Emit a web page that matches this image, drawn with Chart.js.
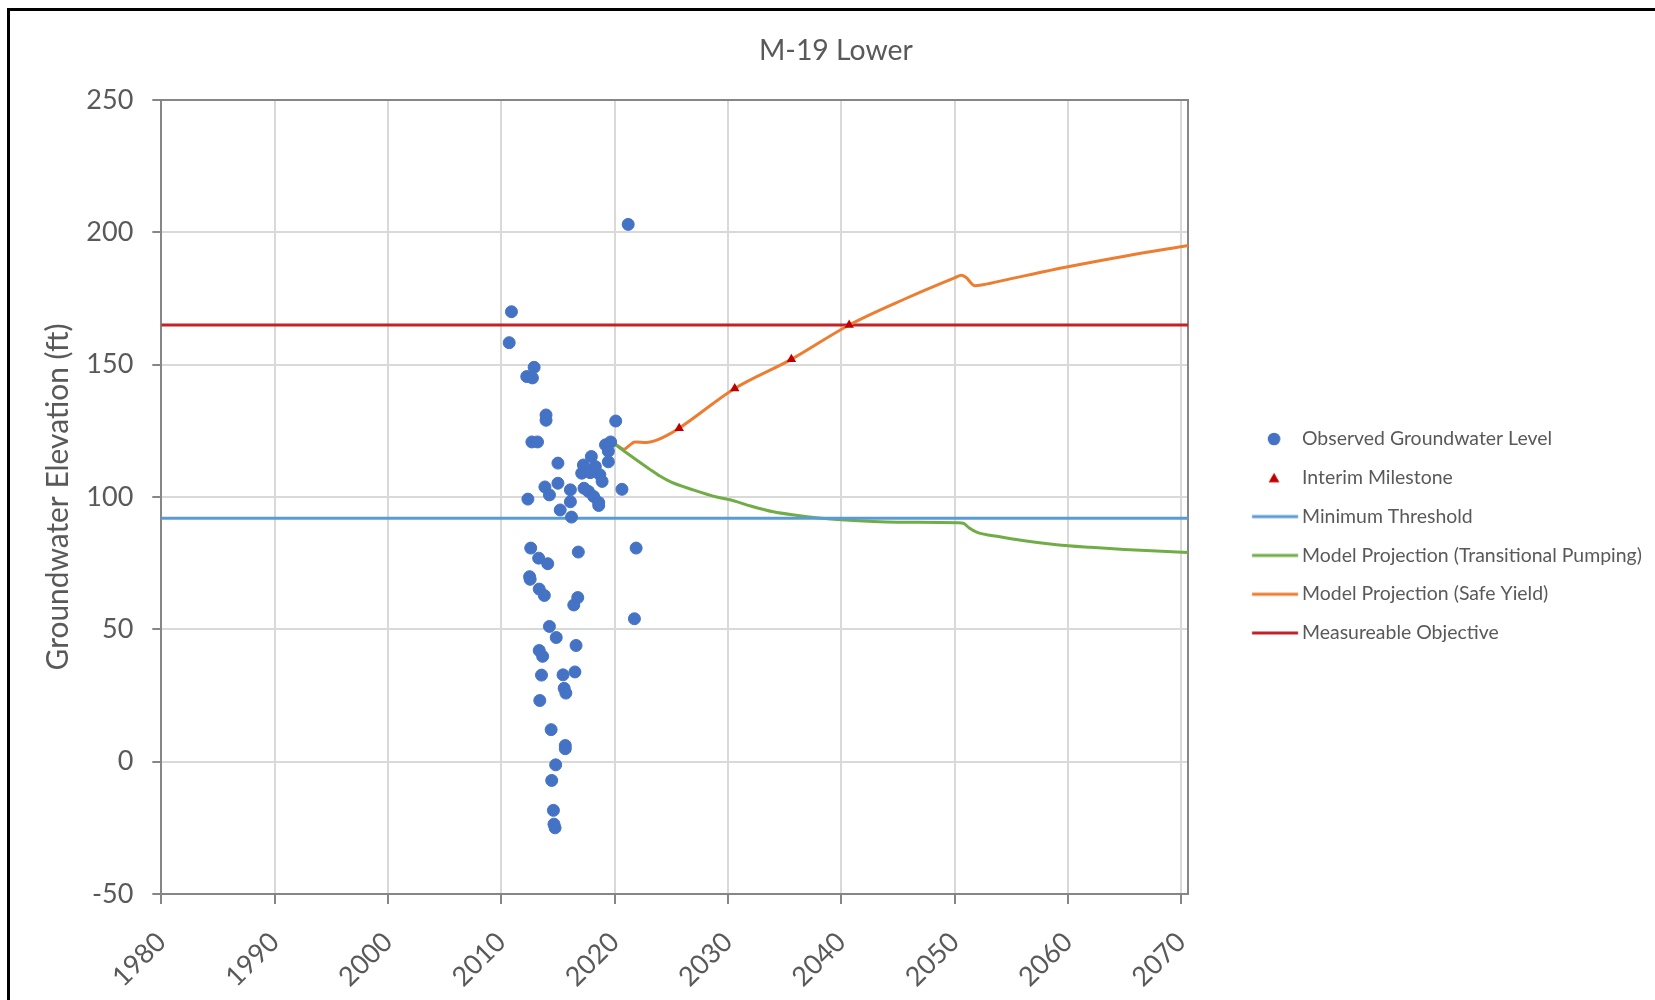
<!DOCTYPE html>
<html>
<head>
<meta charset="utf-8">
<script src="https://cdn.jsdelivr.net/npm/chart.js"></script>
<style>
html,body{margin:0;padding:0;background:#fff;overflow:hidden;}
#wrap{position:relative;width:1655px;height:1000px;}
#c{position:absolute;left:0;top:0;}
#frame{position:absolute;left:7px;top:8px;width:1700px;height:1100px;border-left:3px solid #000;border-top:3px solid #000;pointer-events:none;}
</style>
</head>
<body>
<div id="wrap"><canvas id="c" width="1655" height="1000"></canvas><div id="frame"></div></div>
<script>
// ---------------- data ----------------
const chartTitle = 'M-19 Lower';
const yAxisTitle = 'Groundwater Elevation (ft)';
const seriesNames = ['Observed Groundwater Level', 'Interim Milestone', 'Minimum Threshold',
  'Model Projection (Transitional Pumping)', 'Model Projection (Safe Yield)', 'Measureable Objective'];
const xTickValues = [1980, 1990, 2000, 2010, 2020, 2030, 2040, 2050, 2060, 2070];
const yTickValues = [-50, 0, 50, 100, 150, 200, 250];
const xRange = [1980, 2070.6];

const observedYears = [2021.2, 2010.9, 2010.7, 2012.9, 2012.25, 2012.75, 2013.95, 2013.95, 2012.7, 2013.2,
  2020.1, 2015.0, 2019.2, 2019.65, 2019.45, 2019.45, 2017.95, 2017.25, 2018.3, 2017.1,
  2017.85, 2018.7, 2018.9, 2015.0, 2013.85, 2020.65, 2017.3, 2017.7, 2016.1, 2014.25,
  2012.35, 2018.15, 2018.6, 2018.6, 2016.1, 2015.2, 2016.2, 2012.6, 2016.8, 2021.9,
  2013.3, 2014.1, 2012.5, 2012.55, 2013.35, 2013.8, 2016.75, 2016.4, 2021.75, 2014.25,
  2014.85, 2016.6, 2013.35, 2013.65, 2013.55, 2015.45, 2016.5, 2015.55, 2015.7, 2013.4,
  2014.4, 2015.65, 2015.65, 2014.8, 2014.45, 2014.6, 2014.65, 2014.75];
const observedLevels = [203, 170, 158.3, 149, 145.5, 145, 131, 129, 120.8, 120.8,
  128.7, 112.8, 119.7, 120.8, 117.3, 113.3, 115.3, 112.1, 111.5, 109.0,
  109.2, 108.4, 105.9, 105.2, 103.8, 102.9, 103.3, 102.1, 102.7, 100.8,
  99.2, 100.2, 97.9, 96.8, 98.2, 95.1, 92.4, 80.7, 79.2, 80.7,
  76.9, 74.8, 69.9, 68.9, 65.2, 62.8, 62, 59.2, 54, 51.1,
  46.9, 43.9, 42, 39.8, 32.7, 32.8, 33.9, 27.7, 25.9, 23.1,
  12.1, 6.1, 4.9, -1.2, -7.1, -18.4, -23.6, -25];

const milestoneYears = [2025.7, 2030.6, 2035.6, 2040.7];
const milestoneLevels = [126, 141, 152, 165];

const minimumThreshold = 92;
const measureableObjective = 165;

const transitionalYears = [2019.7, 2020.8, 2022, 2023, 2024, 2025, 2027, 2029, 2030.5, 2032, 2034, 2036, 2038, 2040,
  2045, 2050.3, 2050.8, 2051.3, 2052, 2054, 2056, 2059, 2062, 2065, 2070.6];
const transitionalLevels = [121, 117.5, 113.8, 110.8, 107.9, 105.6, 102.6, 100, 98.6, 96.6, 94.4, 93.1, 92.1, 91.4,
  90.5, 90.3, 90.0, 88.3, 86.6, 85.0, 83.6, 82.0, 81.0, 80.2, 79.0];

const safeYieldYears = [2019.7, 2020.3, 2020.8, 2021.3, 2021.8, 2022.8, 2023.6, 2024.5, 2025.7, 2030.6, 2035.6,
  2040.7, 2045.7, 2050.0, 2050.6, 2051.0, 2051.8, 2052.5, 2055, 2060, 2065, 2070.6];
const safeYieldLevels = [121, 119.3, 118, 119.5, 120.8, 120.6, 121.3, 123, 126, 141, 152,
  165, 175, 182.8, 183.8, 183, 179.8, 180.2, 182.5, 187, 191, 195];

// ---------------- styling helpers ----------------
const FONT = 'Lato';
const TXT = '#595959';
const AXIS = '#868686';
const GRID = '#D9D9D9';
const C_OBS = '#4472C4', C_MS = '#C00000', C_MT = '#5B9BD5', C_TP = '#70AD47', C_SY = '#ED7D31', C_MO = '#C42226';

function fitSize(text, target) {
  const g = document.createElement('canvas').getContext('2d');
  g.font = '400 100px ' + FONT;
  return 100 * target / g.measureText(text).width;
}
const tickSize = fitSize('250', 47);
const titleSize = fitSize(chartTitle, 154);
const legendSize = fitSize(seriesNames[3], 340);
const yTitleSize = fitSize(yAxisTitle, 347);

const PLOT = {left: 161.3, right: 1188, top: 100, bottom: 894};
const PAD = {left: 20, top: 20, right: 0, bottom: 0};
const legendPad = 38.8 - legendSize;
const boxW = 1302 - PLOT.right - legendPad - legendSize / 2;
const mcx = PLOT.right + legendPad + boxW / 2;
const half = Math.ceil(Math.max(mcx - 1248, 1302 - mcx));
const CW = half * 2, CH = 16;
const cLeft = mcx - half;

function marker(kind, color) {
  const cv = document.createElement('canvas');
  cv.width = CW; cv.height = CH;
  const g = cv.getContext('2d');
  g.fillStyle = color; g.strokeStyle = color;
  if (kind === 'line') {
    g.lineWidth = 3;
    g.beginPath(); g.moveTo(1252 - cLeft, CH / 2); g.lineTo(1298 - cLeft, CH / 2); g.stroke();
  } else if (kind === 'circle') {
    g.beginPath(); g.arc(1274 - cLeft, CH / 2, 6.3, 0, Math.PI * 2); g.fill();
  } else {
    const x = 1274 - cLeft, y = CH / 2;
    g.beginPath(); g.moveTo(x, y - 5); g.lineTo(x + 5.4, y + 4.5); g.lineTo(x - 5.4, y + 4.5); g.closePath(); g.fill();
  }
  return cv;
}
const markers = [marker('circle', C_OBS), marker('triangle', C_MS), marker('line', C_MT),
  marker('line', C_TP), marker('line', C_SY), marker('line', C_MO)];

const pts = (xs, ys) => xs.map((x, i) => ({x: x, y: ys[i]}));
const flat = v => [{x: xRange[0], y: v}, {x: xRange[1], y: v}];

const framePlugin = {
  id: 'plotFrame',
  beforeDatasetsDraw(chart) {
    const a = chart.chartArea, g = chart.ctx;
    g.save(); g.strokeStyle = AXIS; g.lineWidth = 2;
    g.beginPath(); g.moveTo(a.left, a.top); g.lineTo(a.right, a.top); g.lineTo(a.right, a.bottom); g.stroke();
    g.restore();
  }
};

const lineDs = (label, data, color, order) => ({
  label, data, borderColor: color, backgroundColor: color, borderWidth: 3,
  showLine: true, pointRadius: 0, pointHoverRadius: 0, cubicInterpolationMode: 'monotone', order
});

const config = {
  type: 'scatter',
  data: {
    datasets: [
      {label: seriesNames[0], data: pts(observedYears, observedLevels), backgroundColor: C_OBS, borderColor: C_OBS,
        pointRadius: 6, borderWidth: 1, pointStyle: 'circle', order: 0},
      {label: seriesNames[1], data: pts(milestoneYears, milestoneLevels), backgroundColor: C_MS, borderColor: C_MS,
        pointRadius: 5.5, borderWidth: 0, pointStyle: 'triangle', order: 1},
      lineDs(seriesNames[2], flat(minimumThreshold), C_MT, 2),
      lineDs(seriesNames[3], pts(transitionalYears, transitionalLevels), C_TP, 3),
      lineDs(seriesNames[4], pts(safeYieldYears, safeYieldLevels), C_SY, 4),
      lineDs(seriesNames[5], flat(measureableObjective), C_MO, 5)
    ]
  },
  options: {
    responsive: false,
    animation: false,
    devicePixelRatio: 1,
    layout: {padding: {left: PAD.left, top: PAD.top, right: 0, bottom: 0}},
    plugins: {
      tooltip: {enabled: false},
      title: {display: true, text: chartTitle, color: TXT,
        font: {family: FONT, size: titleSize, weight: 'normal'}, padding: {top: 14, bottom: 40}},
      legend: {
        position: 'right', align: 'start', maxWidth: 900,
        title: {display: true, text: ' ', font: {family: FONT, size: 10}, padding: {top: 380, bottom: 0}},
        labels: {
          usePointStyle: true, pointStyleWidth: boxW, padding: legendPad, color: TXT,
          font: {family: FONT, size: legendSize, weight: 'normal'},
          generateLabels(chart) {
            const items = Chart.defaults.plugins.legend.labels.generateLabels(chart);
            items.forEach((it, i) => { it.pointStyle = markers[it.datasetIndex]; it.fontColor = TXT; it.lineWidth = 0; });
            return items;
          }
        }
      }
    },
    scales: {
      x: {
        type: 'linear', min: xRange[0], max: xRange[1],
        afterBuildTicks(s) { s.ticks = xTickValues.map(v => ({value: v})); },
        afterFit(s) { s.height = 1000 - PLOT.bottom - PAD.bottom; },
        ticks: {includeBounds: false, maxRotation: 45, minRotation: 45, autoSkip: false, color: TXT, padding: 22,
          font: {family: FONT, size: tickSize}, callback: v => String(v)},
        grid: {color: GRID, lineWidth: 2, tickColor: AXIS, tickLength: 10, tickWidth: 2},
        border: {color: AXIS, width: 2}
      },
      y: {
        type: 'linear', min: -50, max: 250,
        afterBuildTicks(s) { s.ticks = yTickValues.map(v => ({value: v})); },
        afterFit(s) { s.width = PLOT.left - PAD.left; },
        ticks: {color: TXT, padding: 19, font: {family: FONT, size: tickSize}, callback: v => String(v)},
        grid: {color: GRID, lineWidth: 2, tickColor: AXIS, tickLength: 9, tickWidth: 2},
        border: {color: AXIS, width: 2},
        title: {display: true, text: yAxisTitle, color: TXT, font: {family: FONT, size: yTitleSize, weight: 'normal'},
          padding: {top: 58 - PAD.left - 0.6 * yTitleSize, bottom: 0}}
      }
    }
  },
  plugins: [framePlugin]
};

const chart = new Chart(document.getElementById('c'), config);
// align the plot area and legend to the reference layout
for (let k = 0; k < 2; k++) {
  const a = chart.chartArea;
  config.options.layout.padding.right += a.right - PLOT.right;
  config.options.plugins.title.padding.bottom += PLOT.top - a.top;
  const lg = chart.legend;
  const firstMid = lg.top + (12 + config.options.plugins.legend.title.padding.top) + legendPad + legendSize / 2;
  config.options.plugins.legend.title.padding.top += 439 - firstMid;
  chart.update('none');
}
</script>
</body>
</html>
